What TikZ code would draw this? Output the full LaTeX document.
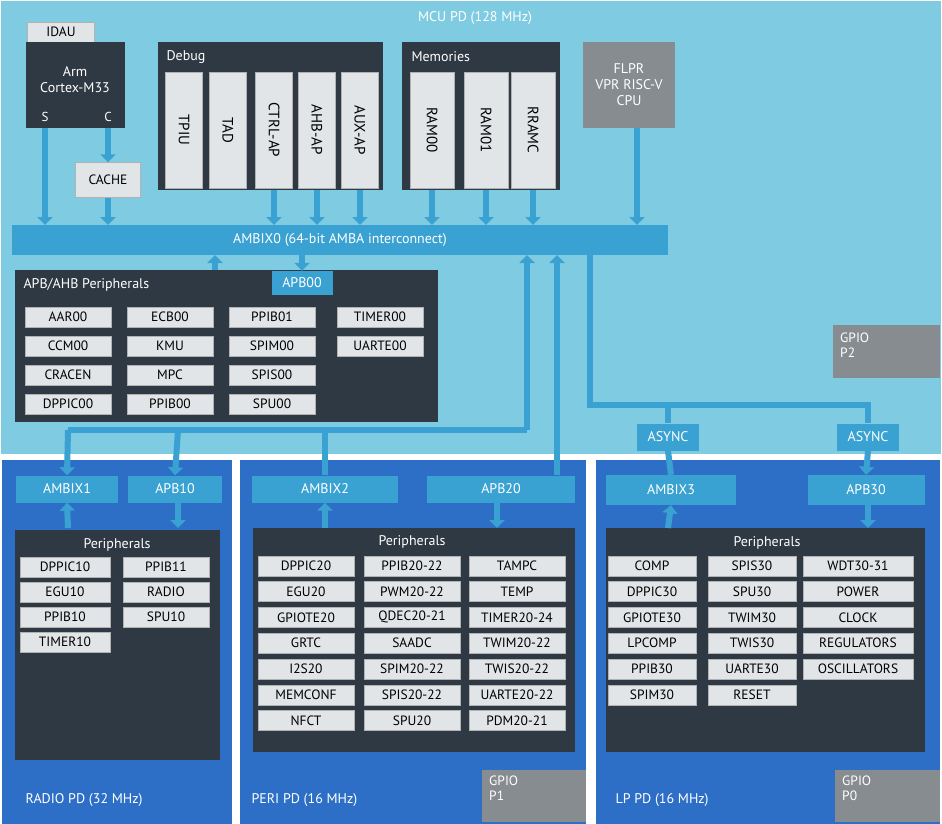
\documentclass[tikz,border=0pt]{standalone}
\usepackage{fontspec}
\setmainfont{PT Sans}
\usetikzlibrary{arrows.meta,positioning}
\definecolor{mcubg}{HTML}{7FCCE2}
\definecolor{busblue}{HTML}{3AA2D2}
\definecolor{pdblue}{HTML}{2D6FC6}
\definecolor{darkbox}{HTML}{2F3943}
\definecolor{lightbox}{HTML}{E1E5E7}
\definecolor{gpiogray}{HTML}{878C90}
\tikzset{
  sz/.style 2 args={minimum width=#1, minimum height=#2},
  region/.style={fill=#1, inner sep=0pt, anchor=north west},
  dark/.style={fill=darkbox, inner sep=0pt, anchor=north west},
  item/.style={fill=lightbox, draw=gray!60, inner sep=0pt, minimum height=20pt, font=\fontsize{13.5}{14}\selectfont},
  bus/.style={fill=busblue, inner sep=0pt, text=white, font=\fontsize{14}{15}\selectfont},
  gpio/.style={fill=gpiogray, inner sep=0pt, anchor=north west, text=white, font=\fontsize{13.5}{15}\selectfont},
  title/.style={text=white, font=\fontsize{14}{15}\selectfont},
  link/.style={draw=busblue, line width=6pt},
  arr/.style={link, -{Triangle[length=8pt,width=15pt]}},
}
\begin{document}
\begin{tikzpicture}[x=1pt, y=-1pt]
\useasboundingbox (0,0) rectangle (942,824);
\fill[white] (0,0) rectangle (942,824);
% power domains
\node[region=mcubg, sz={940pt}{453pt}] (mcu) at (1,1) {};
\node[region=pdblue, sz={230pt}{364pt}] (radio) at (2,460) {};
\node[region=pdblue, sz={346pt}{364pt}] (peri) at (240,460) {};
\node[region=pdblue, sz={344pt}{364pt}] (lp) at (596,460) {};
\node[title] (mcutitle) at (475,18) {MCU PD (128 MHz)};
\node[title, anchor=west] at (22,800) {RADIO PD (32 MHz)};
\node[title, anchor=west] at (248,800) {PERI PD (16 MHz)};
\node[title, anchor=west] at (612,800) {LP PD (16 MHz)};
\fill[gpiogray] (833,325) rectangle (940,378);
\node[gpio, align=left] (gpio2) at (840,333) {GPIO\\P2};
\fill[gpiogray] (482,770) rectangle (586,822);
\node[gpio, align=left] (gpio1) at (489,776) {GPIO\\P1};
\fill[gpiogray] (835,770) rectangle (940,822);
\node[gpio, align=left] (gpio0) at (842,776) {GPIO\\P0};

% CPU side
\node[item, sz={67pt}{20pt}] (idau) at (61,32) {IDAU};
\node[dark, sz={99pt}{86pt}] (arm) at (26,42) {};
\node[text=white, align=center, font=\fontsize{14}{16}\selectfont] at (75,80) {Arm\\Cortex-M33};
\node[text=white, font=\fontsize{13}{14}\selectfont] (armS) at (45,117) {S};
\node[text=white, font=\fontsize{13}{14}\selectfont] (armC) at (108,117) {C};
\node[item, sz={65pt}{35pt}] (cache) at (108,180) {CACHE};
\node[fill=gpiogray, sz={92pt}{86pt}, align=center, text=white, font=\fontsize{14}{16}\selectfont] (flpr) at (629,85) {FLPR\\VPR RISC-V\\CPU};

% debug and memories
\node[dark, sz={225pt}{148pt}] (debug) at (158,42) {};
\node[title, anchor=west] at (163,57) {Debug};
\foreach \t/\x in {TPIU/184, TAD/228, CTRL-AP/274, AHB-AP/317, AUX-AP/360}
  \node[item, sz={37pt}{116pt}, font=\fontsize{15}{16}\selectfont] (dbg-\t) at (\x,130) {\rotatebox{-90}{\t}};
\node[dark, sz={158pt}{148pt}] (mem) at (402,42) {};
\node[title, anchor=west] at (408,57) {Memories};
\foreach \t/\x in {RAM00/432, RAM01/486, RRAMC/533}
  \node[item, sz={44pt}{116pt}, font=\fontsize{15}{16}\selectfont] (mem-\t) at (\x,130) {\rotatebox{-90}{\t}};

% main interconnect
\node[bus, sz={656pt}{30pt}] (ambix0) at (340,240) {AMBIX0 (64-bit AMBA interconnect)};
\draw[arr] (45,128) -- (45,225);
\draw[arr] (108,128) -- (cache.north);
\draw[arr] (cache.south) -- (108,225);
\foreach \x in {274,317,360,432,486,533}
  \draw[arr] (\x,190) -- (\x,225);
\draw[arr] (637,128) -- (637,225);

% APB/AHB peripherals
\node[dark, sz={423pt}{152pt}] (apbahb) at (15,270) {};
\node[title, anchor=west] at (20,285) {APB/AHB Peripherals};
\node[bus, sz={61pt}{24pt}] (apb00) at (302,283) {APB00};
\draw[arr] (302,255) -- (apb00.north);
\draw[arr] (215,270) -- (215,255);
\foreach \t [count=\i] in {AAR00,CCM00,CRACEN,DPPIC00}
  \node[item, sz={86pt}{20pt}] at (68,{288+\i*29}) {\t};
\foreach \t [count=\i] in {ECB00,KMU,MPC,PPIB00}
  \node[item, sz={86pt}{20pt}] at (170,{288+\i*29}) {\t};
\foreach \t [count=\i] in {PPIB01,SPIM00,SPIS00,SPU00}
  \node[item, sz={86pt}{20pt}] at (272,{288+\i*29}) {\t};
\foreach \t [count=\i] in {TIMER00,UARTE00}
  \node[item, sz={86pt}{20pt}] at (380,{288+\i*29}) {\t};

% radio domain
\node[bus, sz={102pt}{27pt}] (ambix1) at (67,489) {AMBIX1};
\node[bus, sz={94pt}{27pt}] (apb10) at (175,489) {APB10};
\node[dark, sz={205pt}{230pt}] (radioper) at (15,530) {};
\node[title] at (117,545) {Peripherals};
\foreach \t [count=\i] in {DPPIC10,EGU10,PPIB10,TIMER10}
  \node[item, sz={90pt}{20pt}] at (65,{542+\i*25}) {\t};
\foreach \t [count=\i] in {PPIB11,RADIO,SPU10}
  \node[item, sz={86pt}{20pt}] at (166,{542+\i*25}) {\t};
\draw[arr] (68,528) -- (ambix1.south);
\draw[arr] (178,502) -- (178,528);

% peri domain
\node[bus, sz={146pt}{27pt}] (ambix2) at (325,489) {AMBIX2};
\node[bus, sz={148pt}{27pt}] (apb20) at (501,489) {APB20};
\node[dark, sz={322pt}{224pt}] (periper) at (253,528) {};
\node[title] at (412,542) {Peripherals};
\foreach \t [count=\i] in {DPPIC20,EGU20,GPIOTE20,GRTC,I2S20,MEMCONF,NFCT}
  \node[item, sz={96pt}{20pt}] at (306,{540+\i*25.8}) {\t};
\foreach \t [count=\i] in {PPIB20-22,PWM20-22,QDEC20-21,SAADC,SPIM20-22,SPIS20-22,SPU20}
  \node[item, sz={96pt}{20pt}] at (412,{540+\i*25.8}) {\t};
\foreach \t [count=\i] in {TAMPC,TEMP,TIMER20-24,TWIM20-22,TWIS20-22,UARTE20-22,PDM20-21}
  \node[item, sz={96pt}{20pt}] at (517,{540+\i*25.8}) {\t};
\draw[arr] (325,528) -- (ambix2.south);
\draw[arr] (497,502) -- (497,528);

% lp domain
\node[bus, sz={130pt}{30pt}] (ambix3) at (671,490) {AMBIX3};
\node[bus, sz={117pt}{30pt}] (apb30) at (866,490) {APB30};
\node[dark, sz={319pt}{224pt}] (lpper) at (606,528) {};
\node[title] at (767,543) {Peripherals};
\foreach \t [count=\i] in {COMP,DPPIC30,GPIOTE30,LPCOMP,PPIB30,SPIM30}
  \node[item, sz={88pt}{20pt}] at (652,{540+\i*25.8}) {\t};
\foreach \t [count=\i] in {SPIS30,SPU30,TWIM30,TWIS30,UARTE30,RESET}
  \node[item, sz={88pt}{20pt}] at (752,{540+\i*25.8}) {\t};
\foreach \t [count=\i] in {WDT30-31,POWER,CLOCK,REGULATORS,OSCILLATORS}
  \node[item, sz={110pt}{20pt}] at (858,{540+\i*25.8}) {\t};
\draw[arr] (668,528) -- (ambix3.south);
\draw[arr] (868,505) -- (868,528);

% domain bus links
\node[bus, sz={62pt}{27pt}] (async1) at (668,437) {ASYNC};
\node[bus, sz={62pt}{27pt}] (async2) at (868,437) {ASYNC};
\draw[link] (527,430) -- (68,430);
\draw[arr] (527,430) -- (527,255);
\draw[arr] (68,430) -- (ambix1.north);
\draw[arr] (178,430) -- (apb10.north);
\draw[link] (325,430) -- (ambix2.north);
\draw[arr] (557,475) -- (557,255);
\draw[link] (590,255) -- (590,405) -- (868,405) -- (async2.north);
\draw[link] (668,405) -- (async1.north);
\draw[link] (async1.south) -- (ambix3.north);
\draw[arr] (async2.south) -- (apb30.north);
\end{tikzpicture}
\end{document}
